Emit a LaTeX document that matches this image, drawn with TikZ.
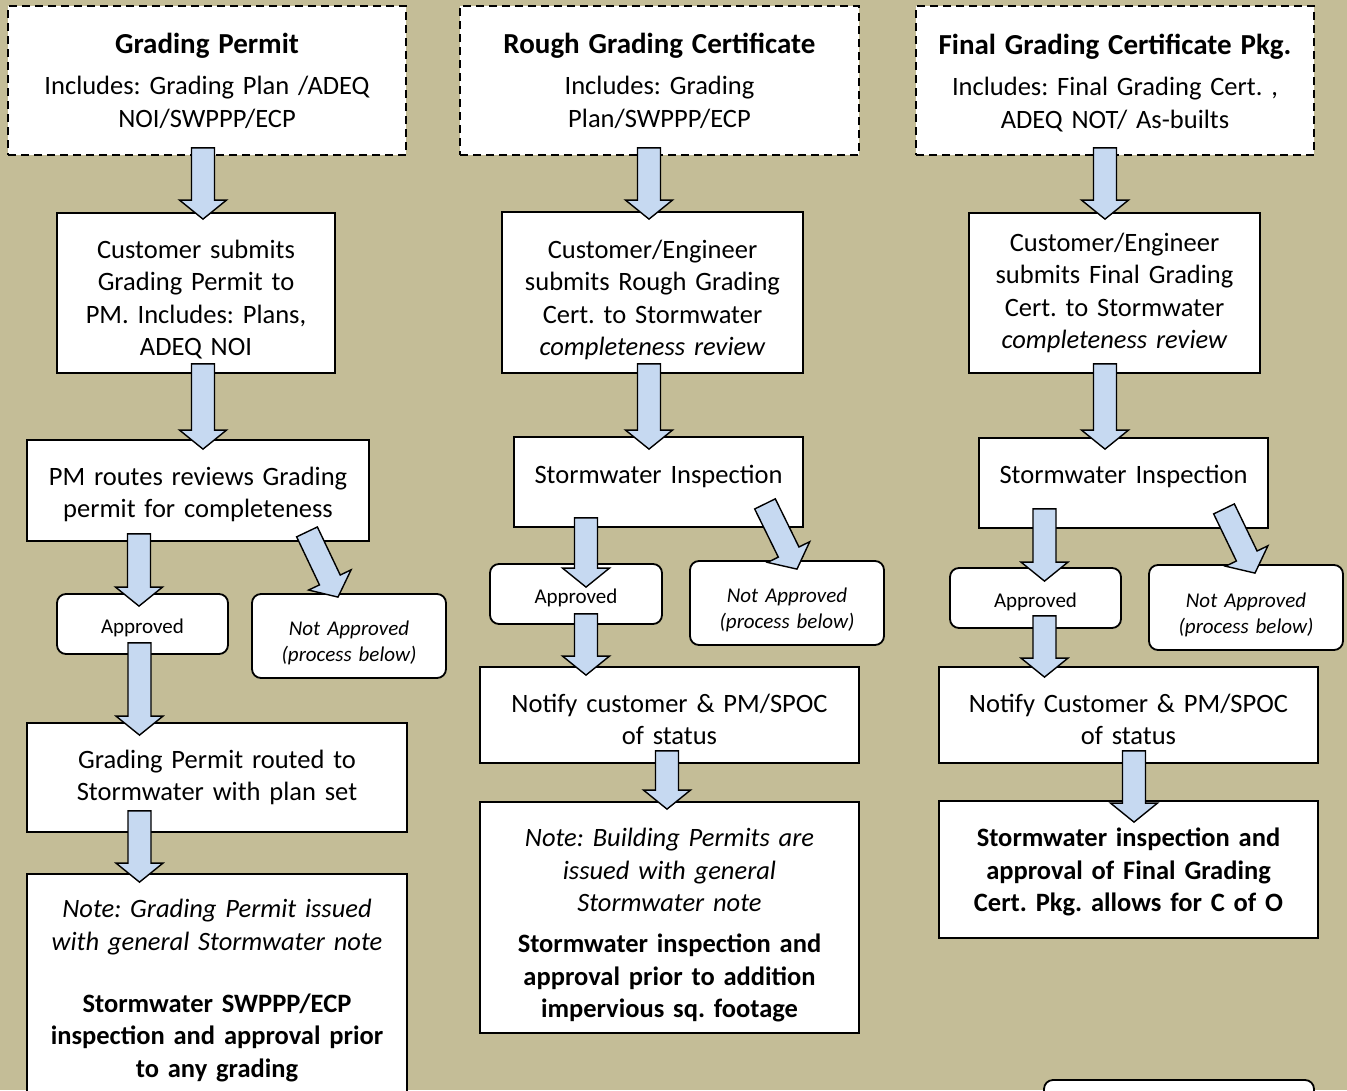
\documentclass[tikz,border=0pt]{standalone}
\usepackage{fontspec}
\setmainfont{Carlito}
\usetikzlibrary{calc}
\definecolor{bgtan}{HTML}{C4BD97}
\definecolor{arrowblue}{HTML}{C6D9F1}
\newcommand\ttlfont{\fontsize{29}{35}\selectfont\bfseries}
\newcommand\vshift[1]{\par\vspace{#1}\nointerlineskip\hbox{}}
\tikzset{
  box/.style={draw=black, fill=white, line width=1.8pt, inner sep=0pt, align=center,
              font=\fontsize{26.5}{32.5}\selectfont\frenchspacing},
  dashbox/.style={box, dash pattern=on 8pt off 5pt},
  rbox/.style={box, rounded corners=9pt, font=\fontsize{21}{25.8}\selectfont\frenchspacing},
  okbox/.style={rbox, text height=22pt, text depth=4pt},
  blockarr/.style={draw=black, fill=arrowblue, line width=1.4pt, line join=miter},
}
\newcommand\blockarrow[2]{%
  \coordinate (bah) at ($(#2)!19pt!(#1)$);
  \draw[blockarr] ($(#1)!11.5pt!90:(#2)$) -- ($(bah)!11.5pt!90:(#2)$) -- ($(bah)!23.5pt!90:(#2)$)
    -- (#2) -- ($(bah)!23.5pt!-90:(#2)$) -- ($(bah)!11.5pt!-90:(#2)$) -- ($(#1)!11.5pt!-90:(#2)$) -- cycle;}
\begin{document}
\begin{tikzpicture}[x=1pt, y=-1pt]
\useasboundingbox (0,0) rectangle (1347,1090);
\fill[bgtan] (0,0) rectangle (1347,1090);
\begin{scope}
\clip (0,0) rectangle (1347,1090);
% ---------- column 1
\node[dashbox, minimum width=398pt, minimum height=149pt, text width=390pt] (A1) at (207,80.5)
  {{\ttlfont Grading Permit}\\[9pt] Includes: Grading Plan /ADEQ\\ NOI/SWPPP/ECP};
\node[box, minimum width=278pt, minimum height=160pt, text width=272pt] (B1) at (196,293)
  {Customer submits\\ Grading Permit to\\ PM. Includes: Plans,\\ ADEQ NOI\vshift{-13pt}};
\node[box, minimum width=342pt, minimum height=101pt, text width=336pt] (C1) at (198,490.5)
  {PM routes reviews Grading\\ permit for completeness\vshift{-8pt}};
\node[okbox, minimum width=171pt, minimum height=60pt, text width=165pt] (P1) at (142.5,624) {Approved};
\node[rbox, minimum width=194pt, minimum height=84pt, text width=188pt] (N1) at (349,636)
  {\itshape Not Approved\\ (process below)\vshift{-14pt}};
\node[box, minimum width=380pt, minimum height=109pt, text width=374pt] (D1) at (217,777.5)
  {Grading Permit routed to\\ Stormwater with plan set};
\node[box, minimum width=380pt, minimum height=229pt, text width=374pt] (E1) at (217,988.5)
  {{\itshape Note: Grading Permit issued\\ with general Stormwater note}\\[29.5pt]
   {\bfseries Stormwater SWPPP/ECP\\ inspection and approval prior\\ to any grading}\vshift{-4pt}};
% ---------- column 2
\node[dashbox, minimum width=399pt, minimum height=149pt, text width=391pt] (A2) at (659.5,80.5)
  {{\ttlfont Rough Grading Certificate}\\[9pt] Includes: Grading\\ Plan/SWPPP/ECP};
\node[box, minimum width=301pt, minimum height=161pt, text width=295pt] (B2) at (652.5,292.5)
  {Customer/Engineer\\ submits Rough Grading\\ Cert. to Stormwater\\ \textit{completeness review}\vshift{-15pt}};
\node[box, minimum width=289pt, minimum height=90pt, text width=283pt] (C2) at (658.5,482)
  {Stormwater Inspection\vshift{12pt}};
\node[okbox, minimum width=172pt, minimum height=60pt, text width=166pt] (P2) at (576,594) {Approved};
\node[rbox, minimum width=194pt, minimum height=84pt, text width=188pt] (N2) at (787,603)
  {\itshape Not Approved\\ (process below)\vshift{-14pt}};
\node[box, minimum width=379pt, minimum height=96pt, text width=373pt] (D2) at (669.5,715)
  {Notify customer \& PM/SPOC\\ of status\vshift{-9pt}};
\node[box, minimum width=379pt, minimum height=231pt, text width=373pt] (E2) at (669.5,917.5)
  {{\itshape Note: Building Permits are\\ issued with general\\ Stormwater note}\\[8.5pt]
   {\bfseries Stormwater inspection and\\ approval prior to addition\\ impervious sq. footage}\vshift{-16pt}};
% ---------- column 3
\node[dashbox, minimum width=398pt, minimum height=149pt, text width=390pt] (A3) at (1115,80.5)
  {{\ttlfont Final Grading Certificate Pkg.}\\[9pt] Includes: Final Grading Cert. ,\\ ADEQ NOT/ As-builts\vshift{-5pt}};
\node[box, minimum width=291pt, minimum height=160pt, text width=285pt] (B3) at (1114.5,293)
  {Customer/Engineer\\ submits Final Grading\\ Cert. to Stormwater\\ \textit{completeness review}};
\node[box, minimum width=289pt, minimum height=90pt, text width=283pt] (C3) at (1123.5,483)
  {Stormwater Inspection\vshift{14pt}};
\node[okbox, minimum width=171pt, minimum height=60pt, text width=165pt] (P3) at (1035.5,598) {Approved};
\node[rbox, minimum width=194pt, minimum height=85pt, text width=188pt] (N3) at (1246,607.5)
  {\itshape Not Approved\\ (process below)\vshift{-14pt}};
\node[box, minimum width=379pt, minimum height=96pt, text width=373pt] (D3) at (1128.5,715)
  {Notify Customer \& PM/SPOC\\ of status\vshift{-9pt}};
\node[box, minimum width=379pt, minimum height=137pt, text width=373pt] (E3) at (1128.5,869.5)
  {\bfseries Stormwater inspection and\\ approval of Final Grading\\ Cert. Pkg. allows for C of O\vshift{-5pt}};
\node[rbox, minimum width=270pt, minimum height=40pt] (F3) at (1179,1100) {};
\end{scope}
% ---------- connectors
\coordinate (s1) at ($(A1.south)+(-4,-8)$);   \coordinate (t1) at ($(B1.north)+(7,7)$);
\coordinate (s2) at ($(B1.south)+(7,-10)$);   \coordinate (t2) at ($(C1.north)+(5,10)$);
\coordinate (s3) at ($(C1.south)+(-59,-8)$);  \coordinate (t3) at ($(P1.north)+(-3.5,13)$);
\coordinate (s4) at ($(C1.south)+(109,-10)$); \coordinate (t4) at ($(N1.north)+(-11,4)$);
\coordinate (s5) at ($(P1.south)+(-3,-12)$);  \coordinate (t5) at ($(D1.north)+(-77.5,13)$);
\coordinate (s6) at ($(D1.south)+(-77.5,-22)$); \coordinate (t6) at ($(E1.north)+(-77.5,9)$);
\coordinate (s7) at ($(A2.south)+(-10.5,-8)$); \coordinate (t7) at ($(B2.north)+(-3.5,8)$);
\coordinate (s8) at ($(B2.south)+(-3.5,-10)$); \coordinate (t8) at ($(C2.north)+(-9.5,13)$);
\coordinate (s9) at ($(C2.south)+(-72.5,-10)$); \coordinate (t9) at ($(P2.north)+(10,24)$);
\coordinate (s10) at ($(C2.south)+(106.5,-24)$); \coordinate (t10) at ($(N2.north)+(10,9)$);
\coordinate (s11) at ($(P2.south)+(10,-11)$); \coordinate (t11) at ($(D2.north)+(-83.5,9)$);
\coordinate (s12) at ($(D2.south)+(-2.5,-13)$); \coordinate (t12) at ($(E2.north)+(-2.5,8)$);
\coordinate (s13) at ($(A3.south)+(-10,-8)$); \coordinate (t13) at ($(B3.north)+(-9.5,7)$);
\coordinate (s14) at ($(B3.south)+(-9.5,-10)$); \coordinate (t14) at ($(C3.north)+(-18.5,12)$);
\coordinate (s15) at ($(C3.south)+(-79,-20)$); \coordinate (t15) at ($(P3.north)+(9,14)$);
\coordinate (s16) at ($(C3.south)+(100.5,-20)$); \coordinate (t16) at ($(N3.north)+(9,9)$);
\coordinate (s17) at ($(P3.south)+(9,-13)$); \coordinate (t17) at ($(D3.north)+(-84,11)$);
\coordinate (s18) at ($(D3.south)+(5.5,-13)$); \coordinate (t18) at ($(E3.north)+(5.5,22)$);
\foreach \i in {1,...,18} {\blockarrow{s\i}{t\i}}
\end{tikzpicture}
\end{document}
